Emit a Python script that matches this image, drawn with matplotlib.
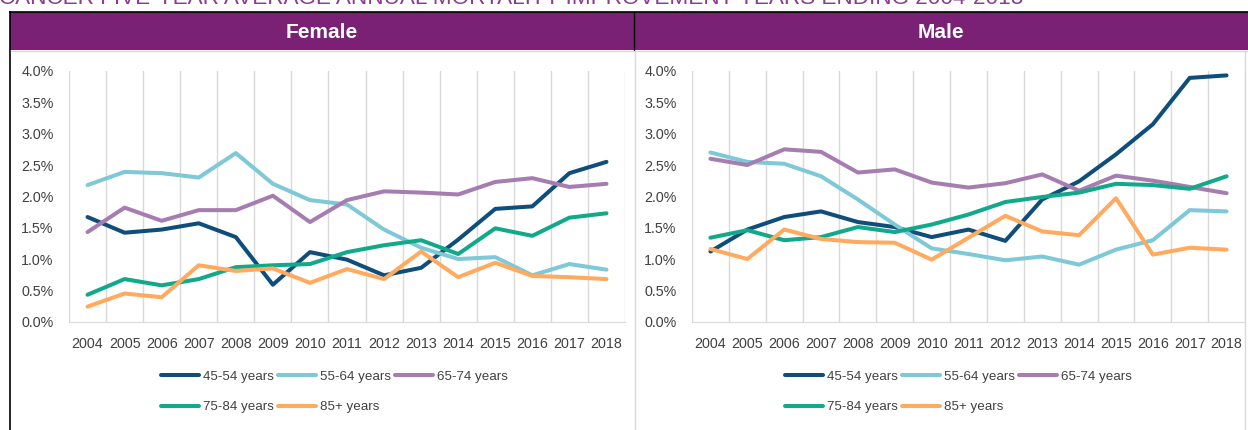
import matplotlib
matplotlib.use("Agg")
import matplotlib.pyplot as plt
from matplotlib.patches import Rectangle
from matplotlib.lines import Line2D
from matplotlib.ticker import FuncFormatter

plt.rcParams['font.family'] = ['Liberation Sans', 'DejaVu Sans']

years = list(range(2004, 2019))
groups = ["45-54 years", "55-64 years", "65-74 years", "75-84 years", "85+ years"]
colors = ["#0F4D7A", "#7EC8D8", "#A67DB0", "#12A98B", "#FFAA5E"]

# average annual mortality improvement, %
female_45_54 = [1.67, 1.42, 1.47, 1.57, 1.35, 0.59, 1.11, 0.99, 0.74, 0.86, 1.31, 1.80, 1.84, 2.37, 2.55]
female_55_64 = [2.18, 2.39, 2.37, 2.30, 2.69, 2.20, 1.94, 1.87, 1.47, 1.18, 1.00, 1.03, 0.74, 0.92, 0.83]
female_65_74 = [1.43, 1.82, 1.61, 1.78, 1.78, 2.01, 1.59, 1.94, 2.08, 2.06, 2.03, 2.23, 2.29, 2.15, 2.20]
female_75_84 = [0.43, 0.68, 0.58, 0.68, 0.87, 0.90, 0.92, 1.11, 1.22, 1.30, 1.08, 1.49, 1.37, 1.66, 1.73]
female_85p = [0.24, 0.45, 0.39, 0.90, 0.81, 0.85, 0.62, 0.84, 0.68, 1.12, 0.71, 0.94, 0.73, 0.71, 0.68]

male_45_54 = [1.12, 1.47, 1.67, 1.76, 1.59, 1.51, 1.35, 1.47, 1.29, 1.95, 2.24, 2.67, 3.15, 3.89, 3.93]
male_55_64 = [2.70, 2.55, 2.52, 2.32, 1.95, 1.55, 1.17, 1.08, 0.98, 1.04, 0.91, 1.15, 1.30, 1.78, 1.76]
male_65_74 = [2.60, 2.50, 2.75, 2.71, 2.38, 2.43, 2.22, 2.14, 2.21, 2.35, 2.09, 2.33, 2.25, 2.15, 2.05]
male_75_84 = [1.34, 1.46, 1.30, 1.35, 1.51, 1.43, 1.55, 1.71, 1.91, 1.99, 2.06, 2.20, 2.18, 2.12, 2.32]
male_85p = [1.16, 1.00, 1.47, 1.32, 1.27, 1.26, 0.99, 1.34, 1.69, 1.44, 1.38, 1.97, 1.07, 1.18, 1.15]

female = [female_45_54, female_55_64, female_65_74, female_75_84, female_85p]
male = [male_45_54, male_55_64, male_65_74, male_75_84, male_85p]

W, H = 1248, 430
fig = plt.figure(figsize=(W / 100, H / 100), dpi=100)


def fx(x):
    return x / W


def fy(y):
    return 1 - y / H


purple = "#7B2175"
tick_color = "#404040"

# title, cropped at the top edge as in the source
fig.text(fx(-1), fy(4.5), "CANCER FIVE-YEAR AVERAGE ANNUAL MORTALITY IMPROVEMENT YEARS ENDING 2004-2018",
         color="#8A3D90", fontsize=16.2, ha="left", va="baseline")

# header band and frame
fig.patches.append(Rectangle((fx(10), fy(50)), fx(W) - fx(10), fy(12) - fy(50),
                             transform=fig.transFigure, facecolor=purple, edgecolor="none", zorder=0))
fig.lines.append(Line2D([fx(10), fx(W)], [fy(12), fy(12)], transform=fig.transFigure, color="black", lw=1.2))
fig.lines.append(Line2D([fx(10), fx(10)], [fy(12), fy(H)], transform=fig.transFigure, color="black", lw=1.2))
fig.lines.append(Line2D([fx(633.5), fx(633.5)], [fy(12), fy(50)], transform=fig.transFigure, color="black", lw=1))
fig.lines.append(Line2D([fx(11), fx(W)], [fy(51), fy(51)], transform=fig.transFigure, color="#D9D9D9", lw=1))
fig.lines.append(Line2D([fx(635), fx(635)], [fy(51), fy(H)], transform=fig.transFigure, color="#D9D9D9", lw=1))
fig.lines.append(Line2D([fx(1245), fx(1245)], [fy(51), fy(H)], transform=fig.transFigure, color="#D9D9D9", lw=1))
fig.text(fx(322), fy(33), "Female", color="white", fontsize=15, fontweight="bold", ha="center", va="center")
fig.text(fx(941), fy(33), "Male", color="white", fontsize=15, fontweight="bold", ha="center", va="center")

panels = [(female, 69, 625, 157), (male, 692, 1245, 781)]

for data, left, right, leg_x in panels:
    ax = fig.add_axes([fx(left), fy(321.7), fx(right) - fx(left), fy(71) - fy(321.7)])
    for vals, c, lab in zip(data, colors, groups):
        ax.plot(years, vals, color=c, lw=2.9, label=lab, solid_capstyle="round", solid_joinstyle="round")
    ax.set_xlim(years[0] - 0.5, years[-1] + 0.5)
    ax.set_ylim(0, 4.0)
    ax.set_yticks([0, 0.5, 1.0, 1.5, 2.0, 2.5, 3.0, 3.5, 4.0])
    ax.yaxis.set_major_formatter(FuncFormatter(lambda v, p: f"{v:.1f}%"))
    ax.set_xticks(years)
    ax.set_xticks([y + 0.5 for y in [years[0] - 1] + years], minor=True)
    ax.grid(False)
    ax.grid(axis="x", which="minor", color="#D9D9D9", lw=1)
    ax.tick_params(axis="both", which="both", length=0, colors=tick_color, labelsize=10.3)
    ax.tick_params(axis="y", pad=11)
    ax.tick_params(axis="x", pad=11)
    for s in ["top", "right", "left"]:
        ax.spines[s].set_visible(False)
    ax.spines["bottom"].set_color("#D9D9D9")
    ax.set_facecolor("none")

    handles, labels = ax.get_legend_handles_labels()
    order = [0, 3, 1, 4, 2]
    fig.legend([handles[i] for i in order], [labels[i] for i in order],
               loc="upper left", bbox_to_anchor=(fx(leg_x - 3), fy(364)), ncol=3, frameon=False,
               fontsize=9.6, handlelength=2.9, handletextpad=0.25, columnspacing=0.3,
               labelspacing=1.35, borderpad=0, labelcolor=tick_color)

fig.savefig("out.png", dpi=100)
